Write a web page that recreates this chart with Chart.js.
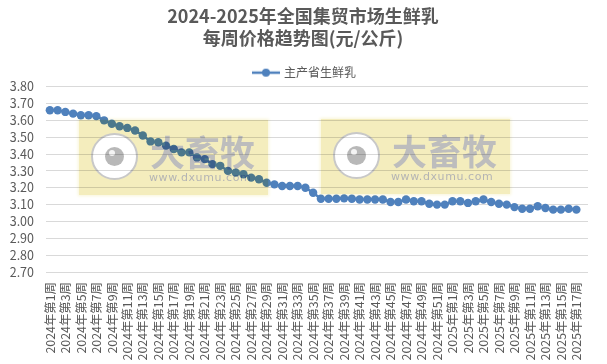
<!DOCTYPE html>
<html lang="zh">
<head>
    <meta charset="UTF-8">
    <title>2024-2025年全国集贸市场生鲜乳每周价格趋势图</title>
    <style>
        body { margin: 0; background: #fff; font-family: "Noto Sans CJK SC", sans-serif; }
        #wrap { position: relative; width: 607px; height: 364px; overflow: hidden; }
        .mark { position: absolute; top: 120px; width: 189px; height: 75px; background: #f4edbd;
                box-shadow: 0 0 3px 1px #f9f5d8; mix-blend-mode: multiply; }
        .ring { position: absolute; left: 12px; top: 13px; width: 43px; height: 43px; border: 2.5px solid #c8c8c8;
                border-radius: 50%; background: #fff; }
        .eye { position: absolute; left: 12px; top: 12px; width: 19px; height: 19px; border-radius: 50%; background: #b8b8b8; }
        .glint { position: absolute; left: 4px; top: 3px; width: 6px; height: 6px; border-radius: 50%; background: #f4f4f4; }
        .brand { position: absolute; left: 71px; top: 9px; font-size: 35px; line-height: 44px; font-weight: 700; color: #bdbdbd; white-space: nowrap; }
        .site { position: absolute; left: 70px; top: 51px; font-size: 11px; line-height: 13px; letter-spacing: 0.6px; color: #b4b4b4;
                font-family: "DejaVu Sans", sans-serif; white-space: nowrap; }
    </style>
</head>
<body>
    <div id="wrap">
        <canvas id="lineChart" width="607" height="364"></canvas>
        <div class="mark" style="left:79px"><div class="ring"><div class="eye"><div class="glint"></div></div></div><div class="brand">大畜牧</div><div class="site">www.dxumu.com</div></div>
        <div class="mark" style="left:321px;top:119px"><div class="ring"><div class="eye"><div class="glint"></div></div></div><div class="brand">大畜牧</div><div class="site">www.dxumu.com</div></div>
    </div>

    <script src="https://cdn.jsdelivr.net/npm/chart.js"></script>

    <script>
        const chartTitle = ["2024-2025年全国集贸市场生鲜乳", "每周价格趋势图(元/公斤)"];
        const seriesName = "主产省生鲜乳";
        const weeks = [
            "2024年第1周", "2024年第2周", "2024年第3周", "2024年第4周", "2024年第5周", "2024年第6周", "2024年第7周", "2024年第8周",
            "2024年第9周", "2024年第10周", "2024年第11周", "2024年第12周", "2024年第13周", "2024年第14周", "2024年第15周", "2024年第16周",
            "2024年第17周", "2024年第18周", "2024年第19周", "2024年第20周", "2024年第21周", "2024年第22周", "2024年第23周", "2024年第24周",
            "2024年第25周", "2024年第26周", "2024年第27周", "2024年第28周", "2024年第29周", "2024年第30周", "2024年第31周", "2024年第32周",
            "2024年第33周", "2024年第34周", "2024年第35周", "2024年第36周", "2024年第37周", "2024年第38周", "2024年第39周", "2024年第40周",
            "2024年第41周", "2024年第42周", "2024年第43周", "2024年第44周", "2024年第45周", "2024年第46周", "2024年第47周", "2024年第48周",
            "2024年第49周", "2024年第50周", "2024年第51周", "2024年第52周",
            "2025年第1周", "2025年第2周", "2025年第3周", "2025年第4周", "2025年第5周", "2025年第6周", "2025年第7周", "2025年第8周",
            "2025年第9周", "2025年第10周", "2025年第11周", "2025年第12周", "2025年第13周", "2025年第14周", "2025年第15周", "2025年第16周",
            "2025年第17周", "2025年第18周"
        ];
        // last week has no reading yet
        const prices = [
            3.66, 3.66, 3.65, 3.64, 3.63, 3.63, 3.625, 3.60,
            3.58, 3.565, 3.555, 3.54, 3.51, 3.475, 3.47, 3.45,
            3.43, 3.41, 3.41, 3.38, 3.37, 3.34, 3.33, 3.30,
            3.29, 3.28, 3.26, 3.25, 3.23, 3.22, 3.21, 3.21,
            3.21, 3.20, 3.17, 3.135, 3.135, 3.135, 3.137, 3.135,
            3.13, 3.13, 3.13, 3.13, 3.115, 3.115, 3.13, 3.12,
            3.12, 3.105, 3.10, 3.10,
            3.12, 3.12, 3.11, 3.12, 3.13, 3.115, 3.105, 3.10,
            3.085, 3.075, 3.075, 3.09, 3.08, 3.07, 3.07, 3.075,
            3.07, null
        ];

        const BLUE = "#4f81bd";
        const TEXT = "#595959";
        const FONT = '"Noto Sans CJK SC", sans-serif';

        // legend swatch: short line with a dot on it
        const swatch = document.createElement("canvas");
        swatch.width = 28;
        swatch.height = 10;
        const sw = swatch.getContext("2d");
        sw.strokeStyle = BLUE;
        sw.lineWidth = 2.5;
        sw.beginPath();
        sw.moveTo(0, 5);
        sw.lineTo(28, 5);
        sw.stroke();
        sw.fillStyle = BLUE;
        sw.beginPath();
        sw.arc(14, 5, 4, 0, Math.PI * 2);
        sw.fill();

        // the right padding pulls title and legend off centre, push them back
        const recentre = {
            id: "recentre",
            afterLayout: function (chart) {
                chart.titleBlock.left += 9;
                chart.titleBlock.right += 9;
                chart.titleBlock.top -= 1;
                chart.titleBlock.bottom -= 1;
                chart.legend.left += 11;
                chart.legend.right += 11;
                chart.legend.top += 2;
                chart.legend.bottom += 2;
            }
        };

        var ctx = document.getElementById("lineChart").getContext("2d");

        var lineChart = new Chart(ctx, {
            type: "line",
            plugins: [recentre],
            data: {
                labels: weeks,
                datasets: [{
                    label: seriesName,
                    data: prices,
                    borderColor: BLUE,
                    backgroundColor: BLUE,
                    borderWidth: 2.5,
                    pointRadius: 4.2,
                    pointBorderWidth: 0,
                    tension: 0
                }]
            },
            options: {
                responsive: false,
                animation: false,
                layout: { padding: { top: 6, right: 19, left: 0, bottom: 0 } },
                plugins: {
                    tooltip: { enabled: false },
                    title: {
                        display: true,
                        text: chartTitle,
                        color: TEXT,
                        font: { family: FONT, size: 18, weight: "bold", lineHeight: 1.24 },
                        padding: { top: 0, bottom: 6 }
                    },
                    legend: {
                        position: "top",
                        labels: {
                            usePointStyle: true,
                            pointStyle: swatch,
                            pointStyleWidth: 24,
                            color: TEXT,
                            font: { family: FONT, size: 12 },
                            padding: 8
                        }
                    }
                },
                scales: {
                    x: {
                        offset: true,
                        afterFit: function (scale) { scale.height = 92; },
                        grid: { display: false },
                        border: { display: false },
                        ticks: {
                            autoSkip: false,
                            minRotation: 90,
                            maxRotation: 90,
                            color: TEXT,
                            font: { family: FONT, size: 12.4 },
                            padding: 2,
                            callback: function (value, index) {
                                return index % 2 === 0 ? this.getLabelForValue(value) : "";
                            }
                        }
                    },
                    y: {
                        min: 2.7,
                        max: 3.8,
                        afterFit: function (scale) { scale.width = 46; },
                        grid: { color: "#d9d9d9", drawTicks: false },
                        border: { display: false },
                        ticks: {
                            autoSkip: false,
                            stepSize: 0.1,
                            color: TEXT,
                            font: { family: FONT, size: 12.5 },
                            padding: 12,
                            callback: function (value) { return value.toFixed(2); }
                        }
                    }
                }
            }
        });
    </script>
</body>
</html>
